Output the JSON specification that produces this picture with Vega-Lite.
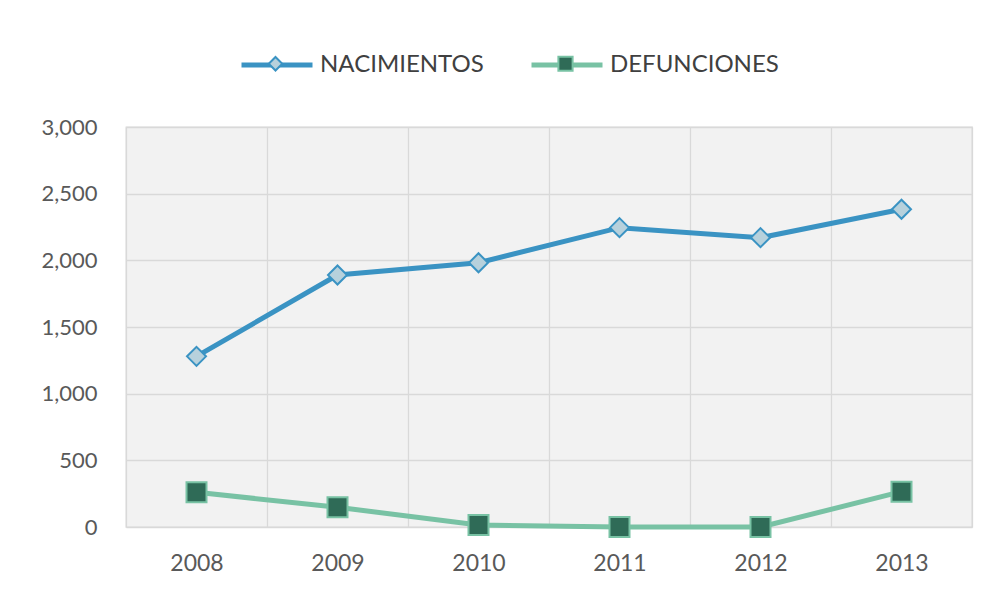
{
  "$schema": "https://vega.github.io/schema/vega-lite/v6.json",
  "width": 846,
  "height": 400,
  "autosize": {"type": "none"},
  "padding": {"left": 126, "top": 127, "right": 20, "bottom": 62},
  "background": "white",
  "data": {
    "values": [
      {"anio": "2008", "serie": "NACIMIENTOS", "grupo": "NACIMIENTOS", "valor": 1280},
      {"anio": "2009", "serie": "NACIMIENTOS", "grupo": "NACIMIENTOS", "valor": 1890},
      {"anio": "2010", "serie": "NACIMIENTOS", "grupo": "NACIMIENTOS", "valor": 1982},
      {"anio": "2011", "serie": "NACIMIENTOS", "grupo": "NACIMIENTOS", "valor": 2245},
      {"anio": "2012", "serie": "NACIMIENTOS", "grupo": "NACIMIENTOS", "valor": 2170},
      {"anio": "2013", "serie": "NACIMIENTOS", "grupo": "NACIMIENTOS", "valor": 2383},
      {"anio": "2008", "serie": "DEFUNCIONES", "grupo": "DEFUNCIONES", "valor": 260},
      {"anio": "2009", "serie": "DEFUNCIONES", "grupo": "DEFUNCIONES", "valor": 148},
      {"anio": "2010", "serie": "DEFUNCIONES", "grupo": "DEFUNCIONES", "valor": 15},
      {"anio": "2011", "serie": "DEFUNCIONES", "grupo": "DEFUNCIONES", "valor": 0},
      {"anio": "2012", "serie": "DEFUNCIONES", "grupo": "DEFUNCIONES", "valor": 0},
      {"anio": "2013", "serie": "DEFUNCIONES", "grupo": "DEFUNCIONES", "valor": 265}
    ]
  },
  "encoding": {
    "x": {
      "field": "anio",
      "type": "ordinal",
      "scale": {"type": "band", "paddingInner": 0, "paddingOuter": 0},
      "axis": {
        "title": null,
        "labelAngle": 0,
        "ticks": false,
        "domain": false,
        "grid": true,
        "gridColor": "#d9d9d9",
        "gridWidth": 1.3,
        "tickBand": "extent",
        "labelPadding": 25,
        "labelFont": "Lato",
        "labelFontSize": 23,
        "labelColor": "#595959"
      }
    },
    "y": {
      "field": "valor",
      "type": "quantitative",
      "scale": {"domain": [0, 3000], "nice": false},
      "axis": {
        "title": null,
        "values": [0, 500, 1000, 1500, 2000, 2500, 3000],
        "format": ",d",
        "ticks": false,
        "domain": false,
        "grid": true,
        "gridColor": "#d9d9d9",
        "gridWidth": 1.3,
        "labelPadding": 29,
        "labelFont": "Lato",
        "labelFontSize": 22,
        "labelColor": "#595959"
      }
    }
  },
  "layer": [
    {
      "mark": {"type": "line", "strokeWidth": 5},
      "encoding": {
        "color": {
          "field": "serie",
          "type": "nominal",
          "sort": "descending",
          "scale": {"range": ["#3a93c3", "#78c2a4"]},
          "legend": {
            "title": null,
            "orient": "none",
            "legendX": 113,
            "legendY": -100,
            "direction": "horizontal",
            "symbolType": "stroke",
            "symbolSize": 5041,
            "symbolStrokeWidth": 5,
            "labelFont": "Lato",
            "labelFontSize": 24,
            "labelLimit": 400,
            "labelColor": "#404040",
            "labelOffset": 5,
            "columnPadding": 37
          }
        }
      }
    },
    {
      "mark": {"type": "point", "filled": true, "size": 10000, "strokeWidth": 2, "opacity": 1},
      "encoding": {
        "fill": {
          "field": "grupo",
          "type": "nominal",
          "sort": "descending",
          "scale": {"range": ["#b7d1dc", "#2f6b57"]},
          "legend": {
            "title": null,
            "orient": "none",
            "legendX": 113,
            "legendY": -100,
            "direction": "horizontal",
            "symbolSize": 5041,
            "symbolStrokeWidth": 2,
            "labelExpr": "''",
            "labelFont": "Lato",
            "labelFontSize": 24,
            "labelOffset": 8,
            "columnPadding": 209
          }
        },
        "stroke": {
          "field": "grupo",
          "type": "nominal",
          "sort": "descending",
          "scale": {"range": ["#3a93c3", "#78c2a4"]}
        },
        "shape": {
          "field": "grupo",
          "type": "nominal",
          "sort": "descending",
          "scale": {"range": ["M0,-0.19L0.19,0L0,0.19L-0.19,0Z", "M-0.2,-0.2H0.2V0.2H-0.2Z"]}
        }
      }
    }
  ],
  "config": {
    "view": {"fill": "#f2f2f2", "stroke": "#d9d9d9", "strokeWidth": 1.3}
  }
}
